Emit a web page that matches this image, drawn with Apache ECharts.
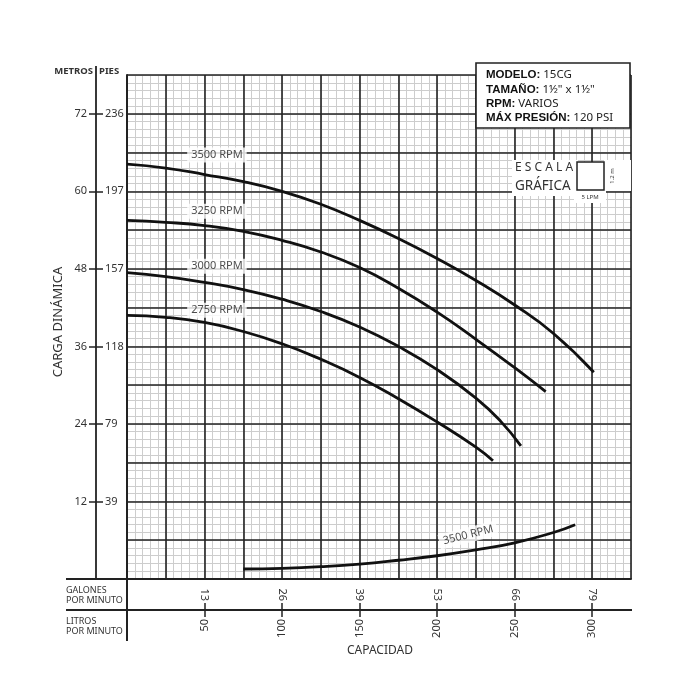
<!DOCTYPE html>
<html>
<head>
<meta charset="utf-8">
<script src="https://cdn.jsdelivr.net/npm/echarts@6.0.0/dist/echarts.min.js"></script>
<style>
  html, body { margin: 0; padding: 0; background: #fff; }
  #chart { width: 700px; height: 700px; }
</style>
</head>
<body>
<div id="chart"></div>
<script>
  // curvas de la bomba (caudal en LPM, carga en metros)
  const lpm3500 = [0, 25, 50, 75, 100, 125, 150, 175, 200, 225, 250, 275, 301]
  const head3500 = [64.2, 63.6, 62.6, 61.5, 60.0, 58.0, 55.5, 52.7, 49.6, 46.2, 42.4, 38.0, 32.0]

  const lpm3250 = [0, 25, 50, 75, 100, 125, 150, 175, 200, 225, 250, 270]
  const head3250 = [55.5, 55.2, 54.7, 53.8, 52.4, 50.6, 48.2, 45.0, 41.3, 37.1, 32.7, 29.0]

  const lpm3000 = [0, 25, 50, 75, 100, 125, 150, 175, 200, 225, 241, 254]
  const head3000 = [47.4, 46.8, 45.9, 44.8, 43.3, 41.4, 39.0, 36.0, 32.4, 28.0, 24.4, 20.6]

  const lpm2750 = [0, 25, 50, 75, 100, 125, 150, 175, 200, 225, 236]
  const head2750 = [40.8, 40.5, 39.7, 38.3, 36.4, 34.0, 31.2, 27.9, 24.3, 20.4, 18.3]

  // curva inferior 3500 RPM
  const lpmLow = [75, 100, 125, 150, 175, 200, 225, 250, 275, 289]
  const headLow = [1.55, 1.65, 1.9, 2.3, 2.9, 3.6, 4.5, 5.6, 7.2, 8.4]

  // etiquetas de curvas
  const curveNames = ['3500 RPM', '3250 RPM', '3000 RPM', '2750 RPM', '3500 RPM']
  const labelLpm = [58, 58, 58, 58, 220]
  const labelHead = [65.6, 56.9, 48.4, 41.6, 6.8]

  // marcas de los ejes
  const metrosTicks = [12, 24, 36, 48, 60, 72]
  const piesTicks = [39, 79, 118, 157, 197, 236]
  const litrosTicks = [50, 100, 150, 200, 250, 300]
  const galonesTicks = [13, 26, 39, 53, 66, 79]

  const FONT = 'Noto Sans'
  const INK = '#222'

  const zip = (xs, ys) => xs.map((x, i) => [x, ys[i]])

  const curve = (xs, ys) => ({
    type: 'line',
    xAxisIndex: 0,
    yAxisIndex: 0,
    smooth: 0.5,
    showSymbol: false,
    symbol: 'none',
    silent: true,
    z: 5,
    lineStyle: { color: '#111', width: 2.8 },
    data: zip(xs, ys)
  })

  const tickLabel = (list, names) => (v) => {
    const i = list.indexOf(v)
    return i >= 0 ? String(names[i]) : ''
  }

  const hiddenX = (gi) => ({ gridIndex: gi, type: 'value', show: false, min: 0, max: 1 })
  const hiddenY = (gi) => ({ gridIndex: gi, type: 'value', show: false, min: 0, max: 1 })

  // cuadrícula fina (debajo de la gruesa)
  const minorAxis = (max, step) => ({
    gridIndex: 0,
    type: 'value',
    min: 0,
    max: max,
    interval: step,
    z: 0,
    axisLine: { show: false, onZero: false },
    axisTick: { show: false },
    axisLabel: { show: false },
    splitLine: { show: true, lineStyle: { color: '#cdcdcd', width: 1 } }
  })

  const chart = echarts.init(document.getElementById('chart'))

  chart.setOption({
    backgroundColor: '#fff',
    animation: false,
    textStyle: { fontFamily: FONT },
    grid: [
      { left: 127, top: 75, width: 504, height: 504 },
      { left: 127, top: 610, width: 504, height: 30 },
      { left: 56, top: 75, width: 40, height: 504 }
    ],
    xAxis: [
      {
        gridIndex: 0,
        type: 'value',
        min: 0,
        max: 325,
        interval: 25,
        z: 1,
        axisLine: { show: true, onZero: false, lineStyle: { color: INK, width: 2 } },
        axisTick: { show: false },
        axisLabel: { show: false },
        splitLine: { show: true, lineStyle: { color: INK, width: 1.6 } }
      },
      {
        // litros por minuto
        gridIndex: 0,
        type: 'value',
        position: 'bottom',
        offset: 31,
        min: 0,
        max: 325,
        axisLine: { show: false, onZero: false },
        axisTick: { show: true, length: 7, customValues: litrosTicks, lineStyle: { color: INK, width: 1.5 } },
        axisLabel: {
          show: true, rotate: 90, margin: 9, fontSize: 11, color: '#333',
          customValues: litrosTicks, formatter: tickLabel(litrosTicks, litrosTicks)
        },
        splitLine: { show: false }
      },
      {
        // galones por minuto
        gridIndex: 1,
        type: 'value',
        position: 'top',
        min: 0,
        max: 325,
        axisLine: { show: false, onZero: false },
        axisTick: { show: true, length: 7, customValues: litrosTicks, lineStyle: { color: INK, width: 1.5 } },
        axisLabel: {
          show: true, rotate: 90, margin: 9, fontSize: 11, color: '#333',
          customValues: litrosTicks, formatter: tickLabel(litrosTicks, galonesTicks)
        },
        splitLine: { show: false }
      },
      hiddenX(2),
      minorAxis(325, 5)
    ],
    yAxis: [
      {
        gridIndex: 0,
        type: 'value',
        min: 0,
        max: 78,
        interval: 6,
        z: 1,
        axisLine: { show: true, onZero: false, lineStyle: { color: INK, width: 2 } },
        axisTick: { show: false },
        axisLabel: { show: false },
        splitLine: { show: true, lineStyle: { color: INK, width: 1.6 } }
      },
      {
        // metros
        gridIndex: 0,
        type: 'value',
        position: 'left',
        offset: 31,
        min: 0,
        max: 78,
        axisLine: { show: false, onZero: false },
        axisTick: { show: true, length: 7, customValues: metrosTicks, lineStyle: { color: INK, width: 1.5 } },
        axisLabel: {
          show: true, margin: 9, fontSize: 11, color: '#333',
          customValues: metrosTicks, formatter: tickLabel(metrosTicks, metrosTicks)
        },
        splitLine: { show: false }
      },
      hiddenY(1),
      {
        // pies
        gridIndex: 2,
        type: 'value',
        position: 'right',
        min: 0,
        max: 78,
        axisLine: { show: false, onZero: false },
        axisTick: { show: true, length: 7, customValues: metrosTicks, lineStyle: { color: INK, width: 1.5 } },
        axisLabel: {
          show: true, margin: 9, fontSize: 11, color: '#333',
          customValues: metrosTicks, formatter: tickLabel(metrosTicks, piesTicks)
        },
        splitLine: { show: false }
      },
      minorAxis(78, 1.2)
    ],
    series: [
      curve(lpm3500, head3500),
      curve(lpm3250, head3250),
      curve(lpm3000, head3000),
      curve(lpm2750, head2750),
      curve(lpmLow, headLow),
      {
        type: 'scatter',
        xAxisIndex: 0,
        yAxisIndex: 0,
        symbolSize: 0,
        silent: true,
        z: 10,
        data: curveNames.map((n, i) => ({
          name: n,
          value: [labelLpm[i], labelHead[i]],
          label: i === 4 ? { rotate: 14 } : {}
        })),
        label: {
          show: true,
          position: 'inside',
          formatter: (p) => p.name,
          fontSize: 11,
          color: '#222',
          backgroundColor: '#fff',
          padding: [2, 4]
        }
      }
    ],
    graphic: [
      // líneas del marco
      { type: 'line', z: 20, shape: { x1: 96, y1: 66, x2: 96, y2: 579 }, style: { stroke: INK, lineWidth: 1.8 } },
      { type: 'line', z: 20, shape: { x1: 66, y1: 579, x2: 127, y2: 579 }, style: { stroke: INK, lineWidth: 2 } },
      { type: 'line', z: 20, shape: { x1: 66, y1: 610, x2: 632, y2: 610 }, style: { stroke: INK, lineWidth: 2 } },
      { type: 'line', z: 20, shape: { x1: 127, y1: 579, x2: 127, y2: 641 }, style: { stroke: INK, lineWidth: 2 } },
      {
        type: 'text', z: 20, x: 93, y: 71,
        style: { text: 'METROS', font: 'bold 9.5px "Noto Sans"', fill: '#333', align: 'right', verticalAlign: 'middle' }
      },
      {
        type: 'text', z: 20, x: 99, y: 71,
        style: { text: 'PIES', font: 'bold 9.5px "Noto Sans"', fill: '#333', align: 'left', verticalAlign: 'middle' }
      },
      {
        type: 'text', z: 20, x: 58, y: 322, rotation: Math.PI / 2,
        style: { text: 'CARGA DINÁMICA', font: '13px "Noto Sans"', fill: '#333', align: 'center', verticalAlign: 'middle' }
      },
      {
        type: 'text', z: 20, left: 66, top: 585,
        style: { text: 'GALONES\nPOR MINUTO', font: '9px "Noto Sans"', lineHeight: 10, fill: '#333' }
      },
      {
        type: 'text', z: 20, left: 66, top: 616,
        style: { text: 'LITROS\nPOR MINUTO', font: '9px "Noto Sans"', lineHeight: 10, fill: '#333' }
      },
      {
        type: 'text', z: 20, x: 380, y: 651,
        style: { text: 'CAPACIDAD', font: '12px "Noto Sans"', fill: '#333', align: 'center', verticalAlign: 'middle' }
      },
      // cuadro del modelo
      {
        type: 'rect', z: 20, shape: { x: 476, y: 63, width: 154, height: 65 },
        style: { fill: '#fff', stroke: INK, lineWidth: 1.6 }
      },
      {
        type: 'text', z: 21, left: 486, top: 68,
        style: {
          text: '{b|MODELO:} 15CG\n{b|TAMAÑO:} 1½" x 1½"\n{b|RPM:} VARIOS\n{b|MÁX PRESIÓN:} 120 PSI',
          font: '11.5px "Noto Sans"',
          lineHeight: 14.3,
          fill: '#222',
          rich: { b: { fontWeight: 'bold', fontSize: 11.5, fill: '#111', lineHeight: 14.3 } }
        }
      },
      // escala gráfica
      { type: 'rect', z: 20, shape: { x: 512, y: 160, width: 66, height: 36 }, style: { fill: '#fff' } },
      { type: 'rect', z: 20, shape: { x: 604, y: 160, width: 27, height: 31 }, style: { fill: '#fff' } },
      { type: 'rect', z: 20, shape: { x: 574, y: 190, width: 32, height: 13 }, style: { fill: '#fff' } },
      {
        type: 'rect', z: 21, shape: { x: 577, y: 162, width: 27, height: 28 },
        style: { fill: '#fff', stroke: INK, lineWidth: 1.5 }
      },
      {
        type: 'text', z: 21, left: 515, top: 162,
        style: { text: 'E S C A L A', font: '12px "Noto Sans"', fill: '#333' }
      },
      {
        type: 'text', z: 21, left: 515, top: 179,
        style: { text: 'GRÁFICA', font: '13.5px "Noto Sans"', fill: '#333' }
      },
      {
        type: 'text', z: 21, x: 612, y: 176, rotation: Math.PI / 2,
        style: { text: '1.2 m', font: '6px "Noto Sans"', fill: '#333', align: 'center', verticalAlign: 'middle' }
      },
      {
        type: 'text', z: 21, x: 590, y: 197,
        style: { text: '5 LPM', font: '6px "Noto Sans"', fill: '#333', align: 'center', verticalAlign: 'middle' }
      }
    ]
  })
</script>
</body>
</html>
